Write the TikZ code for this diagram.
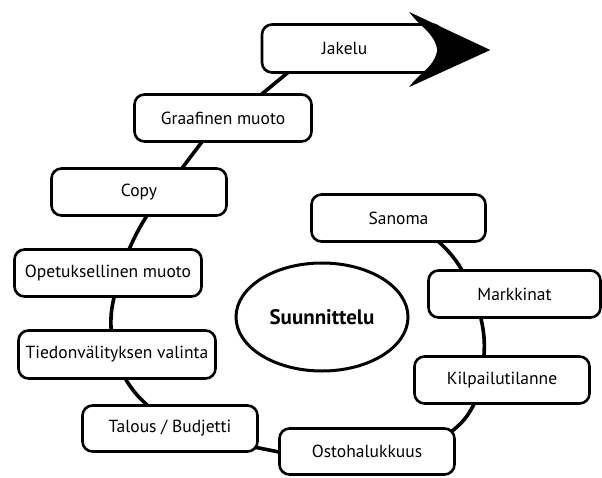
\documentclass[tikz,border=0pt]{standalone}
\usepackage{fontspec}
\setmainfont{PT Sans}
\usetikzlibrary{shapes.geometric,backgrounds}

\begin{document}
\begin{tikzpicture}[x=1pt,y=1pt,
  every node/.style={font=\fontsize{17.5}{20}\selectfont},
  box/.style={draw,line width=2.6pt,rounded corners=10pt,fill=white,
    minimum width=175pt,minimum height=47pt,inner sep=2pt},
  link/.style={line width=3.6pt}]
\useasboundingbox (0,0) rectangle (602,-477);
\node[box,minimum width=180pt,minimum height=48pt,
  label={[xshift=-7.5pt]center:Jakelu}] (jakelu) at (352,-48.5) {};
\node[box,minimum width=177pt] (graafinen) at (223,-118) {Graafinen muoto};
\node[box] (copy) at (139,-192) {Copy};
\node[box,minimum width=187pt] (opetus) at (108,-273) {Opetuksellinen muoto};
\node[box,minimum width=197pt,minimum height=48pt] (tiedon) at (117,-354.5) {Tiedonvälityksen valinta};
\node[box,minimum height=46pt] (talous) at (170,-428.5) {Talous / Budjetti};
\node[box,minimum height=46pt] (osto) at (367,-451.5) {Ostohalukkuus};
\node[box] (kilpailu) at (502,-380) {Kilpailutilanne};
\node[box,minimum width=172pt] (markkinat) at (514.5,-294) {Markkinat};
\node[box,minimum width=174pt] (sanoma) at (398.5,-218) {Sanoma};
\node[ellipse,draw,line width=3pt,minimum width=172pt,minimum height=108pt,inner sep=0pt,
  font=\fontsize{21}{24}\selectfont\bfseries] (suunnittelu) at (322,-317) {Suunnittelu};
\fill[shift={(jakelu.east)}] (-34,36.5) -- (47,-1.5) -- (-34,-38.5)
  to[out=55,in=-100] (-6,-1.5) to[out=100,in=-55] cycle;
\begin{scope}[on background layer]
\draw[link] ([xshift=34.5pt,yshift=6pt]sanoma.south) to[bend left=10]
  ([xshift=-49.5pt,yshift=-6pt]markkinat.north);
\draw[link] ([xshift=-35pt,yshift=6pt]markkinat.south) to[bend left=10]
  ([xshift=-18.5pt,yshift=-6pt]kilpailu.north);
\draw[link] ([xshift=-26pt,yshift=5pt]kilpailu.south) to[bend left=15]
  ([xshift=-8pt,yshift=-7pt]osto.north east);
\draw[link] ([xshift=6pt,yshift=-1.5pt]osto.west) --
  ([xshift=-6pt,yshift=6pt]talous.south east);
\draw[link] ([xshift=-18pt,yshift=-5pt]talous.north) to[bend left=10]
  ([xshift=6pt,yshift=5pt]tiedon.south);
\draw[link] ([xshift=-5.5pt,yshift=-6pt]tiedon.north) to[bend left=10]
  ([xshift=7.5pt,yshift=6pt]opetus.south);
\draw[link] ([xshift=19pt,yshift=-6pt]opetus.north) to[bend left=5]
  ([xshift=11pt,yshift=6pt]copy.south);
\draw[link] ([xshift=40pt,yshift=-5pt]copy.north) --
  ([xshift=-18pt,yshift=5pt]graafinen.south);
\draw[link] ([xshift=35pt,yshift=-4pt]graafinen.north) --
  ([xshift=-62pt,yshift=3pt]jakelu.south);
\end{scope}
\end{tikzpicture}
\end{document}
